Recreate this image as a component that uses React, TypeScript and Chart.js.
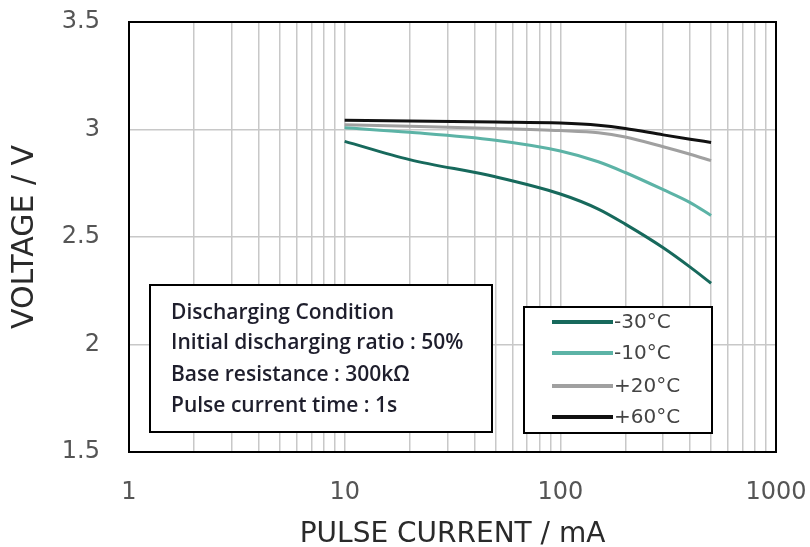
import { useEffect, useRef } from 'react';
import { Chart, registerables } from 'chart.js';

Chart.register(...registerables);

const currents = [10, 20, 50, 100, 150, 200, 300, 400, 500];
const vMinus30 = [2.945, 2.86, 2.78, 2.70, 2.63, 2.56, 2.45, 2.36, 2.285];
const vMinus10 = [3.008, 2.987, 2.95, 2.90, 2.85, 2.80, 2.72, 2.66, 2.60];
const vPlus20 = [3.022, 3.015, 3.005, 2.995, 2.985, 2.965, 2.92, 2.885, 2.855];
const vPlus60 = [3.043, 3.04, 3.035, 3.03, 3.02, 3.005, 2.975, 2.955, 2.94];

const seriesLabels = ['-30°C', '-10°C', '+20°C', '+60°C'];
const seriesColors = ['#17695c', '#5cb3a6', '#a0a0a0', '#111111'];
const yTickValues = [1.5, 2, 2.5, 3, 3.5];
const xLabelTicks = [1, 10, 100, 1000];
const conditionLines = [
  'Discharging Condition',
  'Initial discharging ratio : 50%',
  'Base resistance : 300kΩ',
  'Pulse current time : 1s',
];

const xGridValues: number[] = [];
for (let d = 1; d < 1000; d *= 10) {
  for (let m = 1; m < 10; m++) xGridValues.push(m * d);
}
xGridValues.push(1000);

const zeroPad = (s: any) => {
  s.paddingTop = 0;
  s.paddingBottom = 0;
  s.paddingLeft = 0;
  s.paddingRight = 0;
};

const overlayPlugin = {
  id: 'overlay',
  afterDatasetsDraw(chart: any) {
    const { ctx, chartArea } = chart;
    ctx.save();
    // frame
    ctx.strokeStyle = '#000';
    ctx.lineWidth = 2;
    ctx.strokeRect(chartArea.left, chartArea.top, chartArea.right - chartArea.left, chartArea.bottom - chartArea.top);

    // condition box
    ctx.fillStyle = '#fff';
    ctx.fillRect(150, 285, 342, 147);
    ctx.strokeRect(150, 285, 342, 147);
    ctx.fillStyle = '#1e1e2c';
    ctx.font = '600 21px "Open Sans"';
    ctx.textBaseline = 'middle';
    ctx.textAlign = 'left';
    const ys = [313, 343, 375, 406];
    conditionLines.forEach((t, i) => ctx.fillText(t, 171, ys[i]));

    // legend box
    ctx.fillStyle = '#fff';
    ctx.fillRect(524, 307, 188, 126);
    ctx.strokeRect(524, 307, 188, 126);
    const ly = [322, 353, 386, 417];
    ctx.font = '20px "DejaVu Sans"';
    seriesLabels.forEach((t, i) => {
      ctx.strokeStyle = seriesColors[i];
      ctx.lineWidth = 4;
      ctx.beginPath();
      ctx.moveTo(552, ly[i]);
      ctx.lineTo(613, ly[i]);
      ctx.stroke();
      ctx.fillStyle = '#444';
      ctx.fillText(t, 614, ly[i] + 1);
    });
    ctx.restore();
  },
};

export default function App() {
  const ref = useRef<HTMLCanvasElement>(null);
  useEffect(() => {
    document.body.style.margin = '0';
    const series = [vMinus30, vMinus10, vPlus20, vPlus60];
    const chart = new Chart(ref.current!, {
      type: 'line',
      data: {
        labels: currents,
        datasets: series.map((vals, i) => ({
          label: seriesLabels[i],
          data: vals.map((v, j) => ({ x: currents[j], y: v })),
          borderColor: seriesColors[i],
          borderWidth: 3,
          pointRadius: 0,
          cubicInterpolationMode: 'monotone' as const,
          fill: false,
        })),
      },
      options: {
        animation: false,
        responsive: false,
        layout: { padding: { top: 22, right: 34, left: 0, bottom: 0 } },
        plugins: { legend: { display: false }, tooltip: { enabled: false } },
        scales: {
          x: {
            type: 'logarithmic',
            min: 1,
            max: 1000,
            afterBuildTicks: (s: any) => {
              s.ticks = xGridValues.map((v) => ({ value: v, major: xLabelTicks.includes(v) }));
            },
            afterFit: (s: any) => {
              s.height = 95;
              zeroPad(s);
            },
            ticks: {
              autoSkip: false,
              maxRotation: 0,
              padding: 26,
              color: '#555',
              font: { family: '"DejaVu Sans"', size: 24 },
              callback: (v: any) => (xLabelTicks.includes(Number(v)) ? String(v) : ''),
            },
            grid: { color: '#c8c8c8', lineWidth: 1.5, drawTicks: false },
            border: { display: false },
            title: {
              display: true,
              text: 'PULSE CURRENT / mA',
              color: '#2a2a2a',
              font: { family: '"DejaVu Sans"', size: 28 },
              padding: { top: 0, bottom: -5 },
            },
          },
          y: {
            type: 'linear',
            min: 1.5,
            max: 3.5,
            afterBuildTicks: (s: any) => {
              s.ticks = yTickValues.map((v) => ({ value: v }));
            },
            afterFit: (s: any) => {
              s.width = 129;
              zeroPad(s);
            },
            ticks: {
              padding: 29,
              color: '#555',
              font: { family: '"DejaVu Sans"', size: 24 },
              callback: (v: any) => String(v),
            },
            grid: { color: '#c8c8c8', lineWidth: 1.5, drawTicks: false },
            border: { display: false },
            title: {
              display: true,
              text: 'VOLTAGE / V',
              color: '#2a2a2a',
              font: { family: '"DejaVu Sans"', size: 30 },
              padding: { top: 7, bottom: 0 },
            },
          },
        },
      },
      plugins: [overlayPlugin],
    });
    return () => chart.destroy();
  }, []);
  return <canvas ref={ref} width={810} height={547} style={{ display: 'block' }} />;
}
